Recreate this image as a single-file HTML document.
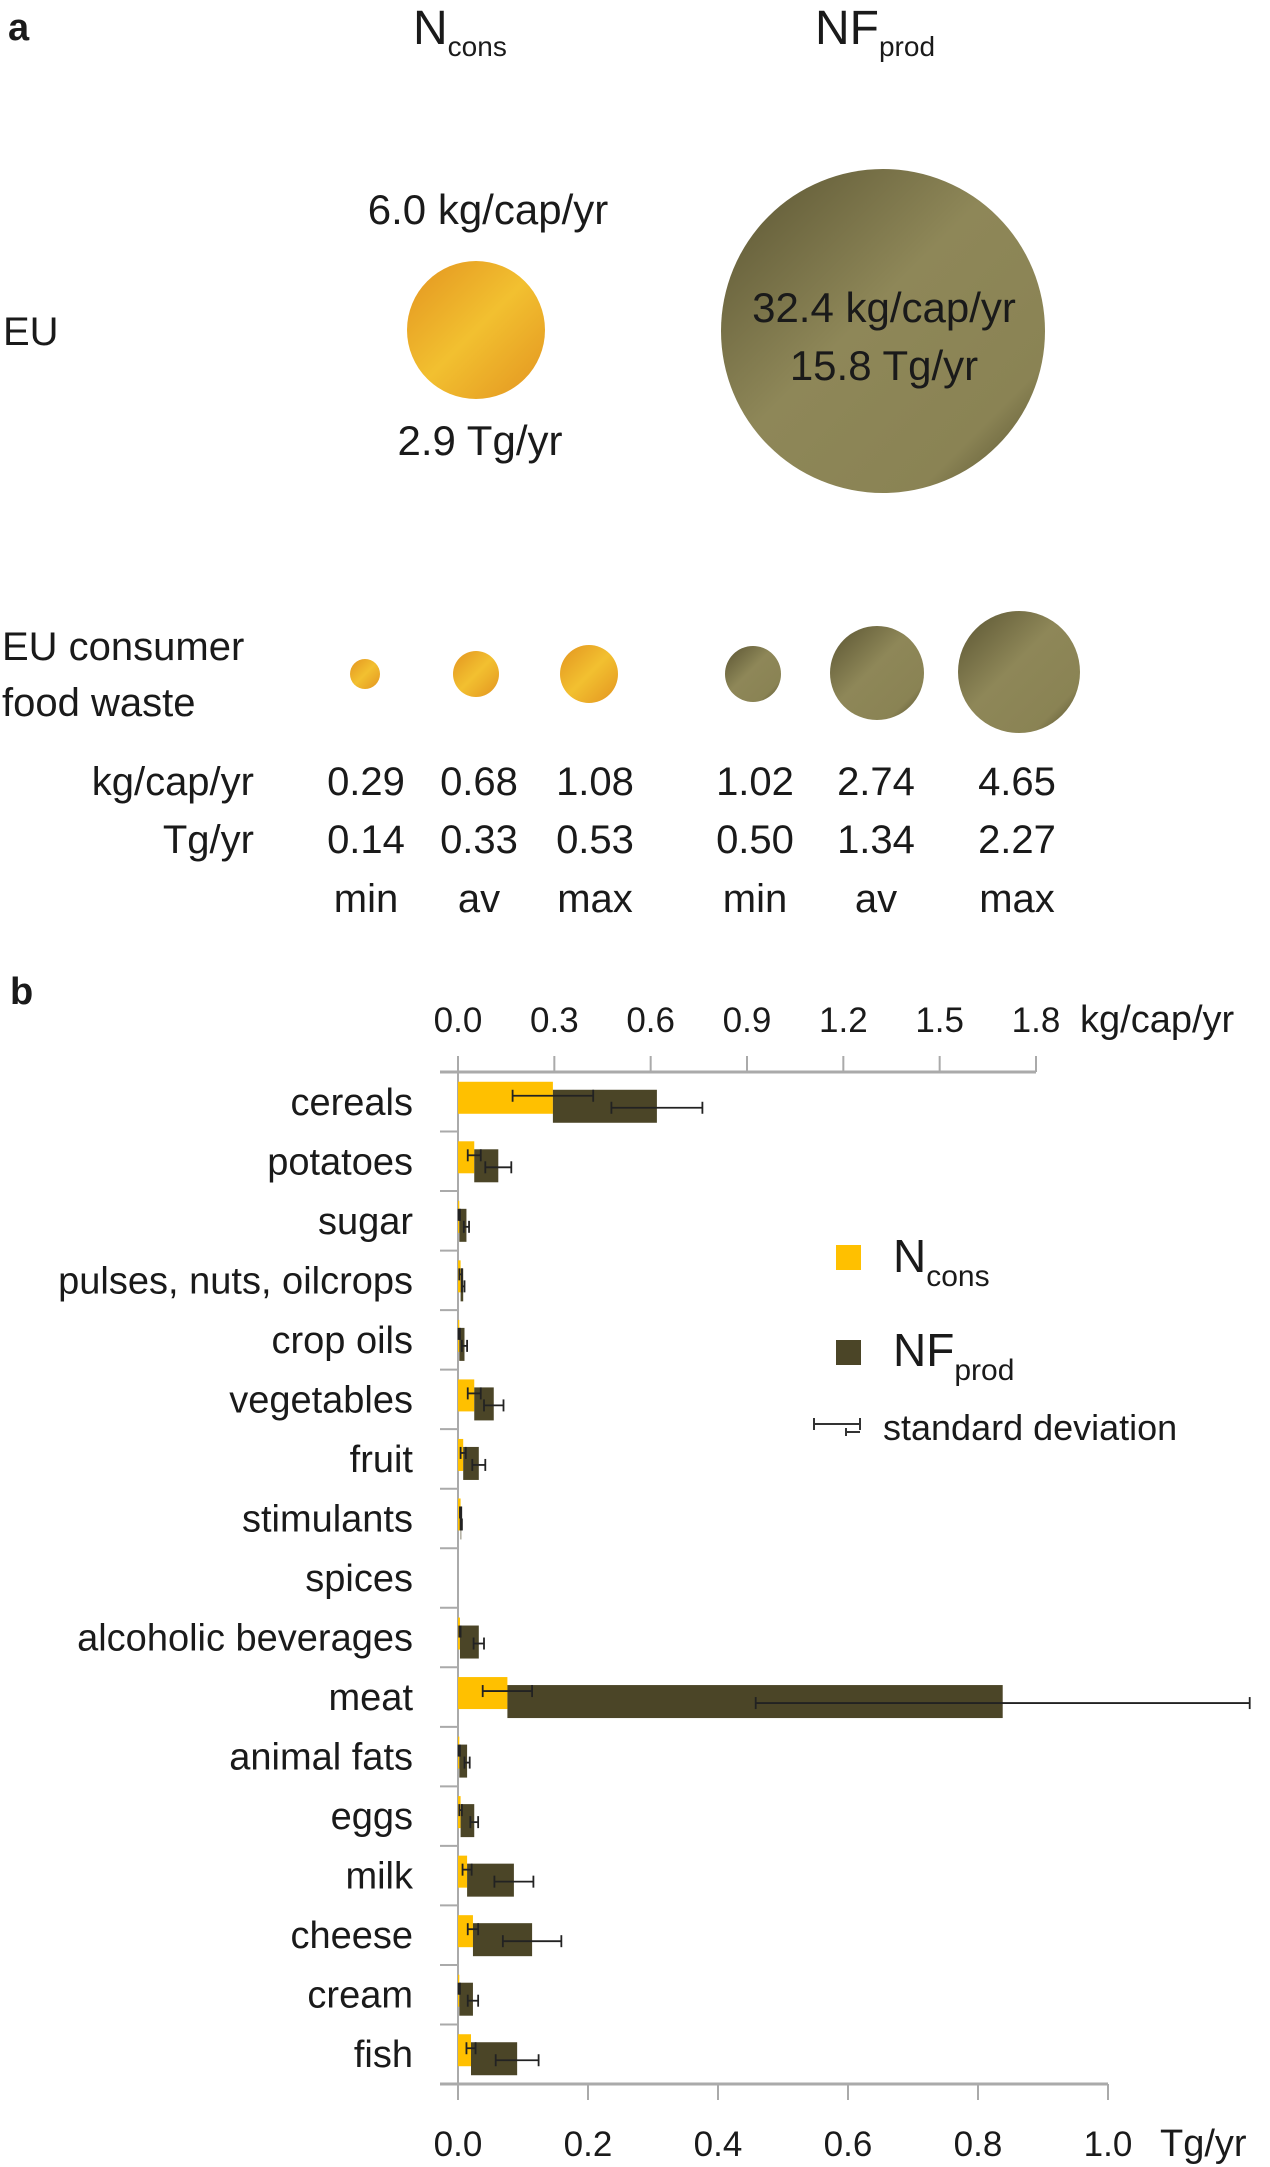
<!DOCTYPE html>
<html><head><meta charset="utf-8">
<style>
html,body{margin:0;padding:0;background:#fff;}
svg{display:block;font-family:"Liberation Sans",sans-serif;fill:#1a1a1a;}
</style></head>
<body>
<svg id="fig" width="1270" height="2167" viewBox="0 0 1270 2167" xmlns="http://www.w3.org/2000/svg">
<defs>
<linearGradient id="gy" x1="0" y1="0" x2="1" y2="1">
<stop offset="0" stop-color="#e39420"/><stop offset="0.5" stop-color="#f2c030"/><stop offset="1" stop-color="#e39420"/></linearGradient>
<linearGradient id="gd" x1="0" y1="0" x2="1" y2="1">
<stop offset="0" stop-color="#5a5432"/><stop offset="0.45" stop-color="#8e8758"/><stop offset="0.8" stop-color="#8a8354"/><stop offset="1" stop-color="#4d4828"/></linearGradient>
</defs>
<g>
<text x="8" y="40" font-size="38" font-weight="bold">a</text>
<text x="413" y="44" font-size="48">N<tspan font-size="28" dy="12">cons</tspan></text>
<text x="815" y="44" font-size="48">NF<tspan font-size="28" dy="12">prod</tspan></text>
<text x="3" y="345" font-size="40">EU</text>
<text x="488" y="224" font-size="42" text-anchor="middle">6.0 kg/cap/yr</text>
<circle cx="476" cy="330" r="69" fill="url(#gy)"/>
<text x="480" y="455" font-size="42" text-anchor="middle">2.9 Tg/yr</text>
<circle cx="883" cy="331" r="162" fill="url(#gd)"/>
<text x="884" y="322" font-size="42" text-anchor="middle">32.4 kg/cap/yr</text>
<text x="884" y="380" font-size="42" text-anchor="middle">15.8 Tg/yr</text>
<text x="2" y="660" font-size="40">EU consumer</text>
<text x="2" y="716" font-size="40">food waste</text>
<circle cx="365" cy="674" r="15" fill="url(#gy)"/>
<circle cx="476" cy="674" r="23" fill="url(#gy)"/>
<circle cx="589" cy="674" r="29" fill="url(#gy)"/>
<circle cx="753" cy="674" r="28" fill="url(#gd)"/>
<circle cx="877" cy="673" r="47" fill="url(#gd)"/>
<circle cx="1019" cy="672" r="61" fill="url(#gd)"/>
<g font-size="40" text-anchor="end">
<text x="254" y="795">kg/cap/yr</text>
<text x="254" y="853">Tg/yr</text>
</g>
<g font-size="40" text-anchor="middle">
<text x="366" y="795">0.29</text><text x="479" y="795">0.68</text><text x="595" y="795">1.08</text>
<text x="755" y="795">1.02</text><text x="876" y="795">2.74</text><text x="1017" y="795">4.65</text>
<text x="366" y="853">0.14</text><text x="479" y="853">0.33</text><text x="595" y="853">0.53</text>
<text x="755" y="853">0.50</text><text x="876" y="853">1.34</text><text x="1017" y="853">2.27</text>
<text x="366" y="912">min</text><text x="479" y="912">av</text><text x="595" y="912">max</text>
<text x="755" y="912">min</text><text x="876" y="912">av</text><text x="1017" y="912">max</text>
</g>
</g>
<text x="10" y="1004" font-size="38" font-weight="bold">b</text>
<g id="chart"></g>
<g>
<rect x="836" y="1245" width="25" height="25" fill="#ffc000"/>
<text x="893" y="1272" font-size="46">N<tspan font-size="30" dy="14">cons</tspan></text>
<rect x="836" y="1340" width="25" height="25" fill="#4b4527"/>
<text x="893" y="1366" font-size="46">NF<tspan font-size="30" dy="14">prod</tspan></text>
<g stroke="#333" stroke-width="2">
<line x1="814" y1="1424" x2="860" y2="1424"/><line x1="814" y1="1418" x2="814" y2="1430"/><line x1="860" y1="1418" x2="860" y2="1430"/>
<line x1="846" y1="1432" x2="860" y2="1432"/><line x1="846" y1="1428" x2="846" y2="1436"/>
</g>
<text x="883" y="1440" font-size="36">standard deviation</text>
</g>
</svg>
<script>
const categories=["cereals","potatoes","sugar","pulses, nuts, oilcrops","crop oils","vegetables","fruit","stimulants","spices","alcoholic beverages","meat","animal fats","eggs","milk","cheese","cream","fish"];
const nconsValues=[0.146,0.025,0.002,0.004,0.002,0.025,0.008,0.004,0,0.003,0.076,0.002,0.004,0.014,0.023,0.002,0.02];
const nfprodValues=[0.160,0.037,0.011,0.004,0.008,0.030,0.024,0.001,0,0.029,0.762,0.012,0.021,0.072,0.091,0.021,0.071];
const nconsSd=[0.062,0.01,0.001,0.002,0.001,0.01,0.004,0.001,0,0.001,0.038,0.001,0.002,0.007,0.008,0.001,0.007];
const nfprodSd=[0.07,0.02,0.004,0.002,0.004,0.015,0.01,0.001,0,0.008,0.38,0.004,0.006,0.03,0.045,0.008,0.033];
const bottomTicks=["0.0","0.2","0.4","0.6","0.8","1.0"];
const topTicks=["0.0","0.3","0.6","0.9","1.2","1.5","1.8"];
const NS="http://www.w3.org/2000/svg";
const g=document.getElementById('chart');
const X0=458,PX_TG=650,TOPY=1072,BOTY=2084,KGMAX=1.8,KGW=578;
const band=(BOTY-TOPY)/categories.length;
const xs=v=>X0+v*PX_TG;
const xk=v=>X0+v/KGMAX*KGW;
const yb=i=>TOPY+i*band;
function mk(t,a){const e=document.createElementNS(NS,t);for(const k in a)e.setAttribute(k,a[k]);g.appendChild(e);return e;}
let e=mk('line',{x1:X0-18,y1:TOPY,x2:xk(KGMAX),y2:TOPY,stroke:'#aaa','stroke-width':3});


e=mk('line',{x1:X0-18,y1:BOTY,x2:xs(1),y2:BOTY,stroke:'#aaa','stroke-width':3});


e=mk('line',{x1:X0,y1:TOPY-16,x2:X0,y2:BOTY+16,stroke:'#aaa','stroke-width':2});


topTicks.forEach((t,i)=>{const v=parseFloat(t);const x=xk(v);
 const l=mk('line',{x1:x,y1:TOPY-16,x2:x,y2:TOPY,stroke:'#aaa','stroke-width':2});
 
 
 const tx=mk('text',{x:x,y:1032,'font-size':35,'text-anchor':'middle'});tx.textContent=t;
 
 
});
e=mk('text',{x:1080,y:1032,'font-size':38});e.textContent='kg/cap/yr';


bottomTicks.forEach((t,i)=>{const v=parseFloat(t);const x=xs(v);
 const l=mk('line',{x1:x,y1:BOTY,x2:x,y2:BOTY+16,stroke:'#aaa','stroke-width':2});
 
 
 const tx=mk('text',{x:x,y:2156,'font-size':35,'text-anchor':'middle'});tx.textContent=t;
 
 
});
e=mk('text',{x:1160,y:2156,'font-size':38});e.textContent='Tg/yr';


function err(cx,sd,cy){
 if(sd<=0)return;
 const a=mk('line',{x1:xs(cx-sd),y1:cy,x2:xs(cx+sd),y2:cy,stroke:'#222','stroke-width':1.8});
 
 
 [cx-sd,cx+sd].forEach(v=>{const c=mk('line',{x1:xs(v),y1:cy-6,x2:xs(v),y2:cy+6,stroke:'#222','stroke-width':1.8});
  
  });
}
categories.forEach((c,i)=>{
 const y0=yb(i),mid=y0+band/2;
 const tk=mk('line',{x1:X0-18,y1:y0,x2:X0,y2:y0,stroke:'#aaa','stroke-width':2});
 
 
 const lb=mk('text',{x:413,y:mid+13,'font-size':38,'text-anchor':'end'});lb.textContent=c;
 
 
 const a=nconsValues[i],b=nfprodValues[i];
 const r1=mk('rect',{x:xs(0),y:mid-20,width:xs(a)-xs(0),height:32,fill:'#ffc000'});
 
 
 const r2=mk('rect',{x:xs(a),y:mid-12,width:xs(a+b)-xs(a),height:33,fill:'#4b4527'});
 
 
 err(a,nconsSd[i],mid-6);
 err(a+b,nfprodSd[i],mid+6);
});
</script>
</body></html>
